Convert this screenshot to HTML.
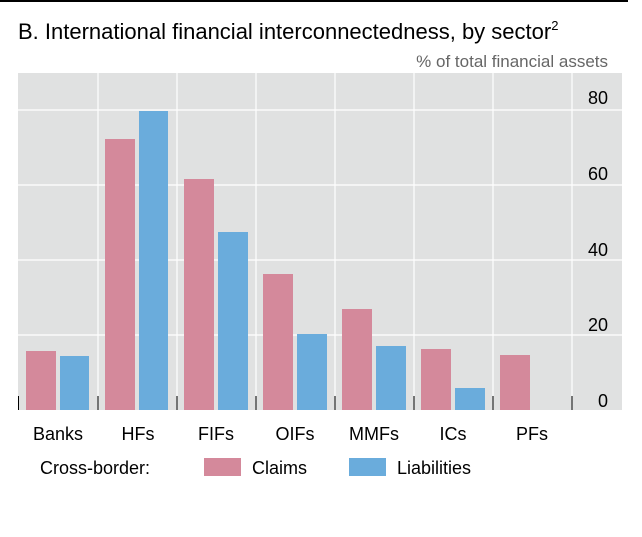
<!DOCTYPE html>
<html><head><meta charset="utf-8"><style>
body{margin:0;background:#fff;width:642px;height:532px;overflow:hidden;font-family:"Liberation Sans",sans-serif}
</style></head><body>
<svg width="642" height="532" xmlns="http://www.w3.org/2000/svg" font-family="Liberation Sans, sans-serif">
<rect x="0" y="0" width="628" height="2" fill="#000"/>
<text x="18" y="39" font-size="22" fill="#000">B. International financial interconnectedness, by sector<tspan font-size="13" dy="-9">2</tspan></text>
<text x="608" y="67" font-size="17" fill="#666" text-anchor="end">% of total financial assets</text>
<rect x="18" y="73" width="604" height="337" fill="#e0e1e1"/>
<g stroke="#fff" stroke-width="1.2">
<line x1="18" y1="110" x2="622" y2="110"/><line x1="18" y1="185" x2="622" y2="185"/>
<line x1="18" y1="260" x2="622" y2="260"/><line x1="18" y1="335" x2="622" y2="335"/>
<line x1="98" y1="73" x2="98" y2="410"/><line x1="177" y1="73" x2="177" y2="410"/>
<line x1="256" y1="73" x2="256" y2="410"/><line x1="335" y1="73" x2="335" y2="410"/>
<line x1="414" y1="73" x2="414" y2="410"/><line x1="493" y1="73" x2="493" y2="410"/>
<line x1="572" y1="73" x2="572" y2="410"/>
</g>
<g fill="#d4899b">
<rect x="26" y="351" width="30" height="59"/><rect x="105" y="139" width="30" height="271"/>
<rect x="184" y="179" width="30" height="231"/><rect x="263" y="274" width="30" height="136"/>
<rect x="342" y="309" width="30" height="101"/><rect x="421" y="349" width="30" height="61"/>
<rect x="500" y="355" width="30" height="55"/>
</g>
<g fill="#6aacdc">
<rect x="60" y="356" width="29" height="54"/><rect x="139" y="111" width="29" height="299"/>
<rect x="218" y="232" width="30" height="178"/><rect x="297" y="334" width="30" height="76"/>
<rect x="376" y="346" width="30" height="64"/><rect x="455" y="388" width="30" height="22"/>
</g>
<g stroke="#000" stroke-width="1">
<line x1="18.5" y1="396" x2="18.5" y2="410"/><line x1="98" y1="396" x2="98" y2="410"/>
<line x1="177" y1="396" x2="177" y2="410"/><line x1="256" y1="396" x2="256" y2="410"/>
<line x1="335" y1="396" x2="335" y2="410"/><line x1="414" y1="396" x2="414" y2="410"/>
<line x1="493" y1="396" x2="493" y2="410"/><line x1="572" y1="396" x2="572" y2="410"/>
</g>
<g font-size="18" fill="#000" text-anchor="end">
<text x="608" y="104">80</text><text x="608" y="180">60</text><text x="608" y="256">40</text>
<text x="608" y="331">20</text><text x="608" y="407">0</text>
</g>
<g font-size="18" fill="#000" text-anchor="middle">
<text x="58" y="440">Banks</text><text x="138" y="440">HFs</text><text x="216" y="440">FIFs</text>
<text x="295" y="440">OIFs</text><text x="374" y="440">MMFs</text><text x="453" y="440">ICs</text>
<text x="532" y="440">PFs</text>
</g>
<text x="40" y="474" font-size="18" fill="#000">Cross-border:</text>
<rect x="204" y="458" width="37" height="18" fill="#d4899b"/>
<text x="252" y="474" font-size="18" fill="#000">Claims</text>
<rect x="349" y="458" width="37" height="18" fill="#6aacdc"/>
<text x="397" y="474" font-size="18" fill="#000">Liabilities</text>
</svg>
</body></html>
